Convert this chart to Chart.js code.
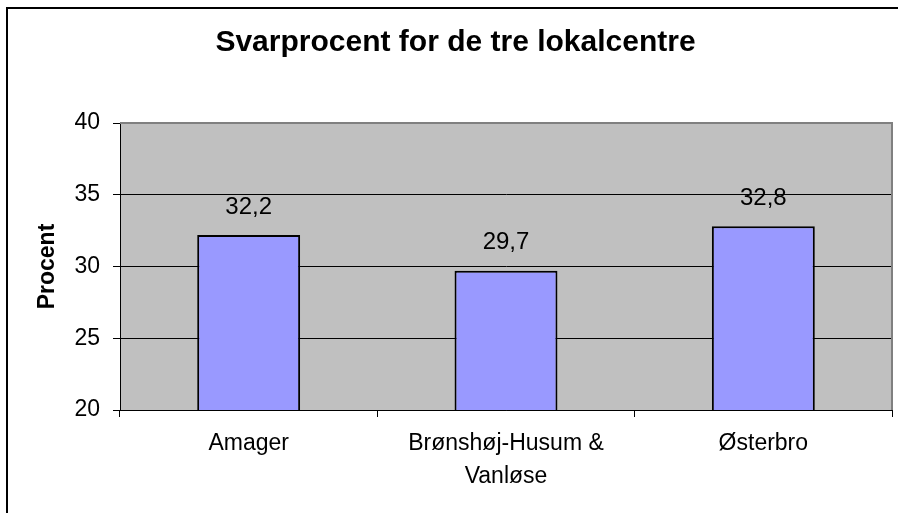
<!DOCTYPE html>
<html><head><meta charset="utf-8">
<script src="https://cdn.jsdelivr.net/npm/chart.js@4"></script>
<style>html,body{margin:0;padding:0;background:#fff}#wrap{width:898px;height:513px;position:relative}</style>
</head><body><div id="wrap"><canvas id="c" width="898" height="513"></canvas></div>
<script>
const categories = [['Amager'], ['Brønshøj-Husum &', 'Vanløse'], ['Østerbro']];
const values = [32.2, 29.7, 32.8];
const valueLabels = ['32,2', '29,7', '32,8'];
const yTicks = [20, 25, 30, 35, 40];
const titleText = 'Svarprocent for de tre lokalcentre';
const yTitle = 'Procent';

const FONT = '"Liberation Sans", Arial, sans-serif';
Chart.defaults.font.family = FONT;
Chart.defaults.color = '#000';

const plotBg = {
  id: 'plotBg',
  beforeDraw(chart) {
    const {ctx, chartArea: a} = chart;
    ctx.save();
    ctx.fillStyle = '#ffffff';
    ctx.fillRect(0, 0, chart.width, chart.height);
    ctx.fillStyle = '#C0C0C0';
    ctx.fillRect(a.left, a.top, a.right - a.left, a.bottom - a.top);
    ctx.strokeStyle = '#000';
    ctx.lineWidth = 2;
    ctx.beginPath();
    ctx.moveTo(7, chart.height + 5);
    ctx.lineTo(7, 8);
    ctx.lineTo(chart.width + 5, 8);
    ctx.stroke();
    ctx.restore();
  },
  beforeDatasetsDraw(chart) {
    const {ctx, chartArea: a} = chart;
    ctx.save();
    ctx.strokeStyle = '#808080';
    ctx.lineWidth = 2;
    ctx.beginPath();
    ctx.moveTo(a.left, a.top);
    ctx.lineTo(a.right, a.top);
    ctx.lineTo(a.right, a.bottom);
    ctx.stroke();
    ctx.restore();
  },
  afterDatasetsDraw(chart) {
    const {ctx} = chart;
    const meta = chart.getDatasetMeta(0);
    ctx.save();
    ctx.fillStyle = '#000';
    ctx.font = '24px ' + FONT;
    ctx.textAlign = 'center';
    ctx.textBaseline = 'middle';
    meta.data.forEach((el, i) => {
      ctx.fillText(valueLabels[i], el.x, el.y - 28);
    });
    ctx.restore();
  }
};

new Chart(document.getElementById('c'), {
  type: 'bar',
  data: {
    labels: categories,
    datasets: [{
      data: values,
      backgroundColor: '#9999FF',
      borderColor: '#000',
      borderWidth: 2,
      borderSkipped: false,
      barPercentage: 0.4,
      categoryPercentage: 1.0
    }]
  },
  options: {
    responsive: false,
    animation: false,
    devicePixelRatio: 1,
    layout: {padding: {left: 19, right: 6, top: 0, bottom: 0}},
    plugins: {
      legend: {display: false},
      tooltip: {enabled: false},
      title: {
        display: true, text: titleText, color: '#000',
        font: {family: FONT, size: 30, weight: 'bold', lineHeight: 1.2},
        padding: {top: 25, bottom: 62}
      }
    },
    scales: {
      x: {
        grid: {offset: true, drawOnChartArea: false, drawTicks: true, tickLength: 7, color: '#000', lineWidth: 1},
        border: {color: '#000', width: 1},
        ticks: {color: '#000', font: {size: 23, lineHeight: 1.4}, padding: 11, maxRotation: 0, autoSkip: false},
        afterFit(s) { s.height = 103; }
      },
      y: {
        min: 20, max: 40,
        afterBuildTicks(s) { s.ticks = yTicks.map(v => ({value: v})); },
        ticks: {color: '#000', font: {size: 23}, padding: 13},
        grid: {color: '#000', lineWidth: 1, tickLength: 7},
        border: {color: '#000', width: 1},
        title: {display: true, text: yTitle, color: '#000', font: {size: 23, weight: 'bold', lineHeight: 1.2}, padding: {top: 15, bottom: 0}},
        afterFit(s) { s.width = 101; }
      }
    }
  },
  plugins: [plotBg]
});
</script></body></html>
